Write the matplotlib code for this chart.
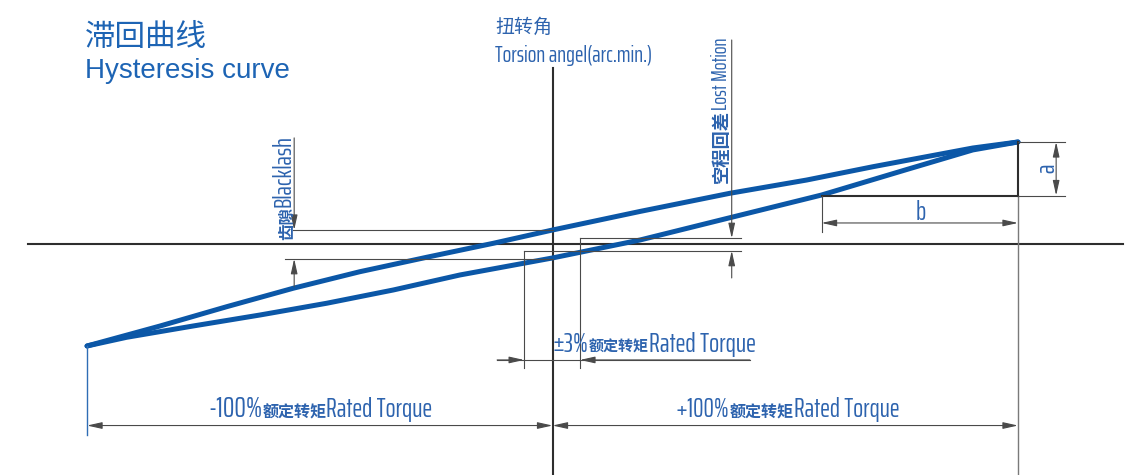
import matplotlib
matplotlib.use("Agg")
import matplotlib.pyplot as plt

plt.rcParams['font.family'] = ['Saira ExtraCondensed', 'Noto Sans CJK SC', 'DejaVu Sans']

# hysteresis loop: torque in % of rated torque, torsion angle in arc-min
torque_up = [-100, -84.3, -70.0, -55.7, -41.4, -27.0, -12.7, 0, 18.8, 38.1, 54.6, 68.9, 90.3, 100]
angle_up = [-10.0, -8.04, -6.15, -4.34, -2.72, -1.30, 0.07, 1.37, 3.19, 4.97, 6.27, 7.58, 9.41, 10.0]
torque_down = [-100, -91.5, -77.2, -62.8, -48.5, -34.2, -19.9, 0, 18.8, 38.5, 57.8, 76.1, 90.3, 100]
angle_down = [-10.0, -9.15, -8.04, -6.96, -5.81, -4.51, -3.04, -1.37, 0.39, 2.62, 4.80, 7.30, 9.22, 10.0]

rated = [-100, 100]
backlash = [1.37, -1.45]
backlash_at = -55.5
band = [-6.1, 5.9]            # the "+-3%" band
lost_motion = [0.56, -0.66]
lost_at = 38.5
b_start = 57.8
a_low = 4.75

blue = '#0b57a7'
txt = '#2d63ae'
dark = '#2e2e2e'
thin = '#4a4a4a'

fig = plt.figure(figsize=(11.39, 4.75), dpi=100)
ax = fig.add_axes([0, 0, 1, 1])
ax.set_xlim(-118.7, 126.0)
ax.set_ylim(-22.65, 23.92)
ax.axis('off')
renderer = fig.canvas.get_renderer()


def fit(t, length, vertical=False):
    # scale the font so the text spans the same pixel length as in the drawing
    bb = t.get_window_extent(renderer)
    cur = bb.height if vertical else bb.width
    t.set_fontsize(t.get_fontsize() * length / cur)


def arrow(x0, y0, x1, y1, style='-|>'):
    ax.annotate('', xy=(x1, y1), xytext=(x0, y0),
                arrowprops=dict(arrowstyle=style + ',head_length=0.9,head_width=0.2',
                                color=thin, lw=0.8, shrinkA=0, shrinkB=0))


def run_text(x, y, parts):
    s, length, w = parts[0]
    t = ax.text(x, y, s, fontsize=12, weight=w, color=txt, va='baseline', ha='left')
    fit(t, length)
    for s, length, w in parts[1:]:
        t = ax.annotate(s, xy=(1, y), xycoords=(t, 'data'), fontsize=12, weight=w, color=txt,
                        va='baseline', ha='left')
        fit(t, length)


def run_text_v(x, y, parts):
    s, length, w = parts[0]
    t = ax.text(x, y, s, fontsize=12, weight=w, color=txt, rotation=90,
                ha='right', va='bottom')
    fit(t, length, True)
    for s, length, w in parts[1:]:
        t = ax.annotate(s, xy=(x, 1), xycoords=('data', t), fontsize=12, weight=w, color=txt,
                        rotation=90, ha='right', va='bottom')
        fit(t, length, True)


# axes
ax.plot([-112.7, 122.6], [0, 0], color=dark, lw=1.5)
ax.plot([0, 0], [17.25, -22.65], color=dark, lw=1.5)

# loop
ax.plot(torque_up, angle_up, color=blue, lw=3.6, solid_capstyle='round', solid_joinstyle='round')
ax.plot(torque_down, angle_down, color=blue, lw=3.6, solid_capstyle='round', solid_joinstyle='round')

# backlash
ax.plot([-55.7, 0], [backlash[0], backlash[0]], color=thin, lw=0.8)
ax.plot([-57.5, 0], [backlash[1], backlash[1]], color=thin, lw=0.8)
arrow(backlash_at, 10.4, backlash_at, backlash[0])
arrow(backlash_at, -4.19, backlash_at, backlash[1])
run_text_v(-55.3, 0.4, [('齿隙', 33, 'bold'), ('Blacklash', 72, 'normal')])

# lost motion
ax.plot([band[1], 40.6], [lost_motion[0], lost_motion[0]], color=thin, lw=0.8)
ax.plot([band[0], 40.6], [lost_motion[1], lost_motion[1]], color=thin, lw=0.8)
arrow(lost_at, 20.0, lost_at, lost_motion[0])
arrow(lost_at, -3.33, lost_at, lost_motion[1])
run_text_v(38.4, 5.98, [('空程回差', 73, 'bold'), ('Lost Motion', 72, 'normal')])

# +-3% band
ax.plot([band[0], band[0]], [lost_motion[1], -12.16], color=thin, lw=0.8)
ax.plot([band[1], band[1]], [lost_motion[0], -12.16], color=thin, lw=0.8)
ax.plot([-11.9, 42.4], [-11.37, -11.37], color=thin, lw=0.8)
arrow(-11.9, -11.37, band[0], -11.37)
arrow(42.4, -11.37, band[1], -11.37)
run_text(0.1, -10.56, [('±3%', 36, 'normal'), ('额定转矩', 60, 'bold'),
                       ('Rated Torque', 107, 'normal')])

# rated torque dimensions
ax.plot([rated[0], rated[0]], [-10.0, -18.7], color='#2f6db5', lw=1.0)
ax.plot([rated[1], rated[1]], [a_low, -22.65], color='#7a7a7a', lw=1.0)
arrow(rated[0], -17.8, 0, -17.8, '<|-|>')
arrow(0, -17.8, rated[1], -17.8, '<|-|>')
run_text(-74.0, -16.99, [('-100%', 54, 'normal'), ('额定转矩', 64, 'bold'),
                         ('Rated Torque', 106, 'normal')])
run_text(26.5, -16.99, [('+100%', 54, 'normal'), ('额定转矩', 64, 'bold'),
                        ('Rated Torque', 105, 'normal')])

# a / b
ax.plot([b_start, rated[1]], [a_low, a_low], color=dark, lw=1.5)
ax.plot([rated[1], rated[1]], [10.0, a_low], color=dark, lw=1.5)
ax.plot([rated[1], 110.1], [10.0, 10.0], color=thin, lw=0.8)
ax.plot([rated[1], 110.1], [a_low, a_low], color=thin, lw=0.8)
arrow(108.2, 10.0, 108.2, a_low, '<|-|>')
ax.text(106.2, 7.45, 'a', fontsize=19, color=txt, rotation=90, ha='center', va='center')
ax.plot([b_start, b_start], [a_low, 1.18], color=thin, lw=0.8)
arrow(b_start, 2.06, rated[1], 2.06, '<|-|>')
ax.text(79.05, 2.35, 'b', fontsize=19, color=txt, ha='center', va='baseline')

# titles
ax.text(-100.4, 20.25, '滞回曲线', fontsize=22, color='#1d64b4', family=['Noto Sans CJK SC'],
        va='center', ha='left')
ax.text(-100.4, 16.25, 'Hysteresis curve', fontsize=20, color='#1d64b4',
        family=['Liberation Sans', 'DejaVu Sans'], va='baseline', ha='left')
t = ax.text(-12.35, 21.2, '扭转角', fontsize=14, weight='medium', color=txt,
            va='center', ha='left')
fit(t, 57)
t = ax.text(-12.35, 17.87, 'Torsion angel(arc.min.)', fontsize=13, color=txt,
            va='baseline', ha='left')
fit(t, 156)

fig.savefig('out.png', dpi=100)
